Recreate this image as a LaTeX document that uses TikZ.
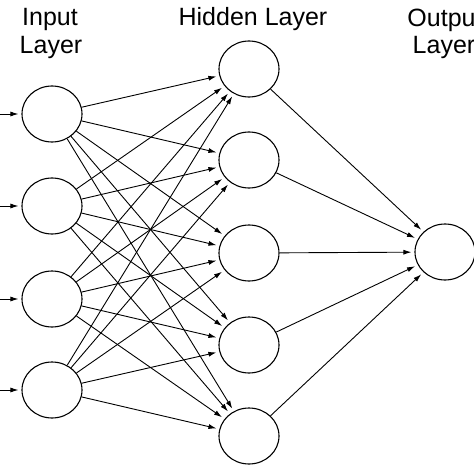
\documentclass[tikz,border=0pt]{standalone}
\usepackage{fontspec}
\setmainfont{Liberation Sans}
\usetikzlibrary{arrows.meta,shapes.geometric}
\begin{document}
\begin{tikzpicture}[x=1pt,y=-1pt,
  neuron/.style={ellipse,draw,line width=1.1pt,minimum width=60pt,minimum height=56pt,inner sep=0pt},
  conn/.style={line width=0.9pt,-{Latex[length=8pt,width=5pt]},shorten >=3pt},
  lbl/.style={anchor=base,font=\fontsize{25}{28}\selectfont,inner sep=0pt}]
\useasboundingbox (0,0) rectangle (474,474);
\clip (0,0) rectangle (474,474);
\fill[white] (0,0) rectangle (474,474);
% labels
\node[lbl] (l1a) at (50,25) {Input};
\node[lbl] (l1b) at (51,53) {Layer};
\node[lbl] (l2) at (253,25) {Hidden Layer};
\node[lbl] (l3a) at (445,26) {Output};
\node[lbl] (l3b) at (444,53) {Layer};
% nodes
\foreach \i/\y in {1/114,2/206,3/299,4/390}{
  \node[neuron] (i\i) at (52,\y) {};
  \coordinate (s\i) at (0,\y);
}
\foreach \j/\y in {1/69,2/160,3/253,4/345,5/436}{
  \node[neuron] (h\j) at (249,\y) {};
}
\node[neuron] (o) at (445,252) {};
% connectors
\foreach \i in {1,...,4}{
  \draw[conn] (s\i) -- (i\i);
  \foreach \j in {1,...,5}{
    \draw[conn] (i\i) -- (h\j);
  }
}
\foreach \j in {1,...,5}{
  \draw[conn] (h\j) -- (o);
}
\end{tikzpicture}
\end{document}
